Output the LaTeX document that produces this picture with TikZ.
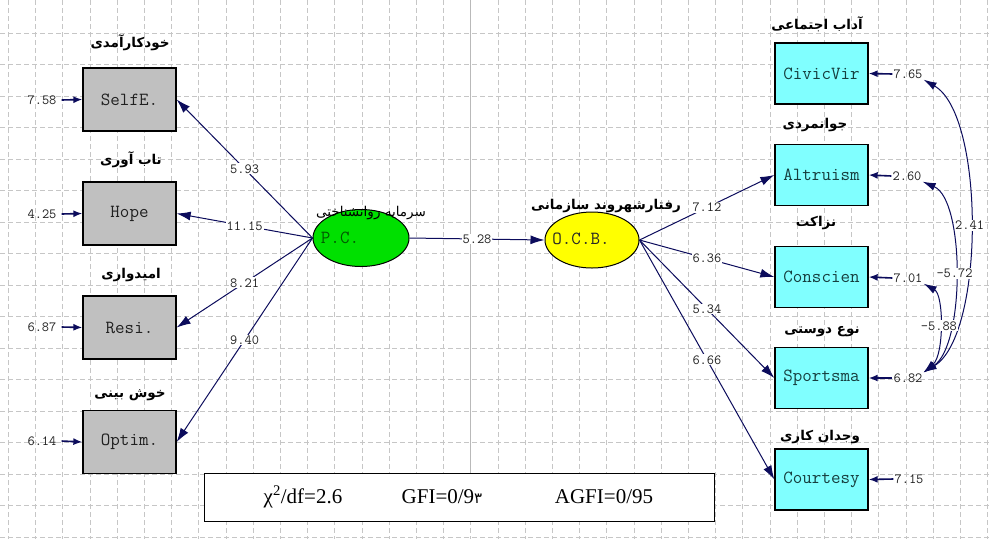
\documentclass[tikz,border=0pt]{standalone}
\usepackage{fontspec}
\setmainfont{Liberation Serif}
\newfontfamily\arabicfont[Script=Arabic]{DejaVu Sans}
\TeXXeTstate=1
\usetikzlibrary{arrows.meta,shapes.geometric}
\definecolor{navyline}{HTML}{0C0C5C}
\definecolor{lgray}{HTML}{C0C0C0}
\definecolor{cyanbox}{HTML}{80FFFF}
\definecolor{pcgreen}{HTML}{00E000}
\definecolor{ocbyellow}{HTML}{FFFF00}
\definecolor{ltxt}{HTML}{202020}
\definecolor{rtxt}{HTML}{163E3E}
\definecolor{numtxt}{HTML}{202020}
\newcommand\boxfont{\ttfamily\fontsize{18.5}{18.5}\selectfont}
\newcommand\numfont{\ttfamily\fontsize{14}{14}\selectfont}
\newcommand\pers[1]{{\arabicfont\bfseries\fontsize{13.5}{15}\selectfont\beginR #1\endR}}
\newcommand\persreg[1]{{\arabicfont\fontsize{13.5}{15}\selectfont\beginR #1\endR}}
\tikzset{
  gridline/.style={gray!45, line width=0.7pt, dash pattern=on 5pt off 3pt},
  lbox/.style={draw=black, line width=1.3pt, fill=lgray, minimum width=93pt, minimum height=63pt, inner sep=0pt, font=\boxfont, text=ltxt},
  rbox/.style={draw=black, line width=1.3pt, fill=cyanbox, minimum width=93pt, minimum height=61pt, inner sep=0pt, font=\boxfont, text=rtxt},
  conn/.style={navyline, line width=1pt, -{Latex[length=14pt,width=9pt]}},
  errarr/.style={navyline, line width=1.6pt, -{Latex[length=9pt,width=7pt]}},
  cov/.style={navyline, line width=1pt, {Latex[length=13pt,width=8pt]}-{Latex[length=13pt,width=8pt]}},
  num/.style={font=\numfont, text=numtxt, fill=white, inner sep=1pt},
  errlab/.style={font=\numfont, text=numtxt, inner sep=1pt},
  title/.style={inner sep=0pt}
}
\begin{document}
\begin{tikzpicture}[x=1pt,y=-1pt]
\useasboundingbox (0,0) rectangle (992,539);
\fill[white] (0,0) rectangle (992,539);
% grid
\foreach \k in {0,...,36} {
  \draw[gridline] (8.3+27.2*\k,0) -- (8.3+27.2*\k,539);
}
\foreach \k in {0,...,16} {
  \draw[gridline] (0,33+31.5*\k) -- (992,33+31.5*\k);
}
\draw[gray!55, line width=0.8pt] (470.7,0) -- (470.7,473);

% left boxes
\node[lbox] (selfe) at (129.5,99.5) {SelfE.};
\node[lbox] (hope)  at (129.5,213.5) {Hope};
\node[lbox] (resi)  at (129.5,327.5) {Resi.};
\node[lbox] (optim) at (129.5,442) {Optim.};

\node[title] (tselfe) at (130,43) {\pers{خودکارآمدی}};
\node[title] (thope)  at (131,160) {\pers{تاب آوری}};
\node[title] (tresi)  at (131,275) {\pers{امیدواری}};
\node[title] (toptim) at (130,395) {\pers{خوش بینی}};

% right boxes
\node[rbox] (civic)  at (821.5,73.5) {CivicVir};
\node[rbox] (altru)  at (821.5,175) {Altruism};
\node[rbox] (consc)  at (821.5,277) {Conscien};
\node[rbox] (sport)  at (821.5,378) {Sportsma};
\node[rbox] (court)  at (821.5,479.5) {Courtesy};

\node[title] (tcivic) at (817,24) {\pers{آداب اجتماعی}};
\node[title] (taltru) at (815,125) {\pers{جوانمردی}};
\node[title] (tconsc) at (816,223) {\pers{نزاکت}};
\node[title] (tsport) at (822,332) {\pers{نوع دوستی}};
\node[title] (tcourt) at (820,437) {\pers{وجدان کاری}};

% latent variables
\node[ellipse, draw=black, line width=1pt, fill=pcgreen, minimum width=96pt, minimum height=57pt, inner sep=0pt] (pc) at (361,238) {};
\node[font=\boxfont, text=green!35!black] (pctext) at (340,238) {P.C.};
\node[ellipse, draw=black, line width=1pt, fill=ocbyellow, minimum width=94pt, minimum height=56pt, inner sep=0pt] (ocb) at (592,240) {};
\node[font=\boxfont, text=black!85] (ocbtext) at (581,239) {O.C.B.};
\node[title] (tpc) at (371,213) {\persreg{سرمایه روانشناختی}};
\node[title] (tocb) at (606,206) {\pers{رفتارشهروند سازمانی}};

% paths P.C. -> indicators
\draw[conn] (pc.west) -- node[num] {5.93} (selfe.east);
\draw[conn] (pc.west) -- node[num] {11.15} (hope.east);
\draw[conn] (pc.west) -- node[num] {8.21} (resi.east);
\draw[conn] (pc.west) -- node[num] {9.40} (optim.east);

\draw[conn] (pc.east) -- node[num] {5.28} (ocb.west);

\draw[conn] (ocb.east) -- node[num] {7.12} (altru.west);
\draw[conn] (ocb.east) -- node[num] {6.36} (consc.west);
\draw[conn] (ocb.east) -- node[num] {5.34} (sport.west);
\draw[conn] (ocb.east) -- node[num] {6.66} (court.west);

% error terms left
\node[errlab] (el1) at (42,100) {7.58};
\node[errlab] (el2) at (42,214) {4.25};
\node[errlab] (el3) at (42,327) {6.87};
\node[errlab] (el4) at (42,441) {6.14};
\draw[errarr] (el1.east) ++(4,0) -- (selfe.west);
\draw[errarr] (el2.east) ++(4,0) -- (hope.west);
\draw[errarr] (el3.east) ++(4,0) -- (resi.west);
\draw[errarr] (el4.east) ++(4,0) -- (optim.west);

% error terms right
\node[errlab] (er1) at (908,74) {7.65};
\node[errlab] (er2) at (907,176) {2.60};
\node[errlab] (er3) at (908,278) {7.01};
\node[errlab] (er4) at (908,378) {6.82};
\node[errlab] (er5) at (909,479) {7.15};
\draw[errarr] (er1.west) -- (civic.east);
\draw[errarr] (er2.west) -- (altru.east);
\draw[errarr] (er3.west) -- (consc.east);
\draw[errarr] (er4.west) -- (sport.east);
\draw[errarr] (er5.west) -- (court.east);

% covariances
\draw[cov] (er1.south east) .. controls (985,115) and (985,335) .. node[num, pos=0.5] {2.41} (er4.north east);
\draw[cov] (er2.south east) .. controls (965,200) and (965,345) .. node[num, pos=0.5] {-5.72} (er4.north east);
\draw[cov] (er3.south east) .. controls (944,295) and (944,355) .. node[num, pos=0.5] {-5.88} (er4.north east);

% fit box
\node[draw=black, line width=1pt, fill=white, minimum width=510pt, minimum height=48pt, inner sep=0pt] (fit) at (459.75,497) {};
\node[font=\fontsize{21}{21}\selectfont] (chi) at (303,497) {χ\textsuperscript{2}/df=2.6};
\node[font=\fontsize{21}{21}\selectfont] (gfi) at (442,497) {GFI=0/9{\arabicfont\fontsize{15}{15}\selectfont ٣}};
\node[font=\fontsize{21}{21}\selectfont] (agfi) at (604,497) {AGFI=0/95};
\end{tikzpicture}
\end{document}
